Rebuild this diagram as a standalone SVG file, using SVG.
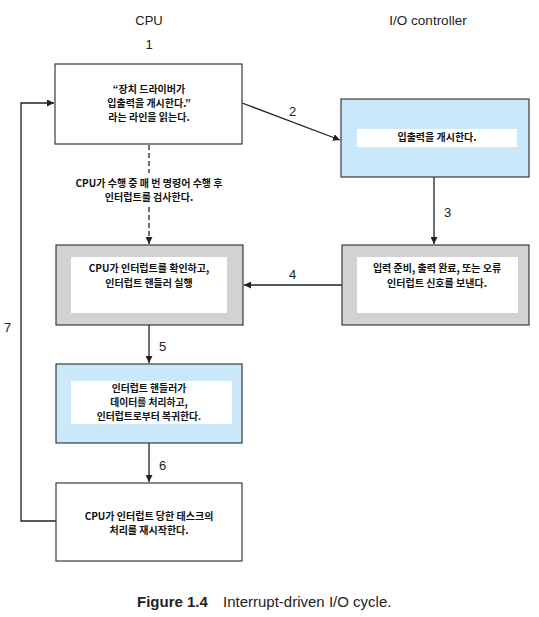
<svg xmlns="http://www.w3.org/2000/svg" width="539" height="617" viewBox="0 0 539 617">
<style>
.lbl{font-family:"Liberation Sans",Arial,sans-serif;font-size:13px;fill:#222}
.kr{font-family:"Noto Sans CJK KR","Noto Sans",sans-serif;font-size:10px;font-weight:bold;fill:#111;text-anchor:middle}
.box{stroke:#3a3a3a;stroke-width:1.2}
.white{fill:#fff}
.blue{fill:#c9e9fa}
.gray{fill:#d2d2d5}
.line{stroke:#222;stroke-width:1.3;fill:none}
.dash{stroke:#222;stroke-width:1.3;fill:none;stroke-dasharray:5,3}
</style>
<defs>
<marker id="ah" viewBox="0 0 10 10" refX="10" refY="5" markerWidth="7" markerHeight="7" markerUnits="userSpaceOnUse" orient="auto">
<path d="M0,0 L10,5 L0,10 z" fill="#222"/>
</marker>
</defs>
<text class="lbl" x="149" y="25" text-anchor="middle">CPU</text>
<text class="lbl" x="428" y="25" text-anchor="middle" style="font-size:13.5px">I/O controller</text>
<text class="lbl" x="149" y="49" text-anchor="middle">1</text>
<g id="connectors">
<line class="line" x1="242" y1="103" x2="340" y2="140" marker-end="url(#ah)"/>
<text class="lbl" x="289" y="116">2</text>
<line class="line" x1="434" y1="177" x2="434" y2="244" marker-end="url(#ah)"/>
<text class="lbl" x="444" y="217">3</text>
<line class="line" x1="342" y1="285" x2="244" y2="285" marker-end="url(#ah)"/>
<text class="lbl" x="289" y="279">4</text>
<line class="line" x1="149" y1="325" x2="149" y2="363" marker-end="url(#ah)"/>
<text class="lbl" x="159" y="351">5</text>
<line class="line" x1="149" y1="443" x2="149" y2="482" marker-end="url(#ah)"/>
<text class="lbl" x="159" y="470">6</text>
<polyline class="line" points="56,521 21,521 21,103 54,103" marker-end="url(#ah)"/>
<text class="lbl" x="4" y="332">7</text>
<line class="dash" x1="149" y1="145" x2="149" y2="173"/>
<line class="dash" x1="149" y1="207" x2="149" y2="244" marker-end="url(#ah)"/>
<text class="kr" x="149" y="187">CPU가 수행 중 매 번 명령어 수행 후</text>
<text class="kr" x="149" y="201">인터럽트를 검사한다.</text>
</g>
<g id="n1">
<rect class="box white" x="55" y="64" width="187" height="80"/>
<text class="kr" x="149" y="93">“장치 드라이버가</text>
<text class="kr" x="149" y="107">입출력을 개시한다.”</text>
<text class="kr" x="149" y="121">라는 라인을 읽는다.</text>
</g>
<g id="n2">
<rect class="box blue" x="341" y="99" width="188" height="78"/>
<rect class="white" x="357" y="129" width="160" height="18"/>
<text class="kr" x="437" y="141">입출력을 개시한다.</text>
</g>
<g id="n3">
<rect class="box gray" x="56" y="245" width="187" height="80"/>
<rect class="white" x="71" y="257" width="156" height="56"/>
<text class="kr" x="149" y="272">CPU가 인터럽트를 확인하고,</text>
<text class="kr" x="149" y="287">인터럽트 핸들러 실행</text>
</g>
<g id="n4">
<rect class="box gray" x="342" y="245" width="187" height="80"/>
<rect class="white" x="357" y="257" width="161" height="56"/>
<text class="kr" x="437" y="272">입력 준비, 출력 완료, 또는 오류</text>
<text class="kr" x="437" y="287">인터럽트 신호를 보낸다.</text>
</g>
<g id="n5">
<rect class="box blue" x="56" y="364" width="186" height="79"/>
<rect class="white" x="71" y="381" width="161" height="43"/>
<text class="kr" x="149" y="391.5" style="font-size:9.8px">인터럽트 핸들러가</text>
<text class="kr" x="149" y="405.5" style="font-size:9.8px">데이터를 처리하고,</text>
<text class="kr" x="149" y="419.5" style="font-size:9.8px">인터럽트로부터 복귀한다.</text>
</g>
<g id="n6">
<rect class="box white" x="56" y="483" width="186" height="78"/>
<text class="kr" x="149" y="520">CPU가 인터럽트 당한 태스크의</text>
<text class="kr" x="149" y="534">처리를 재시작한다.</text>
</g>
<text x="137" y="607" style="font-family:'Liberation Sans',Arial,sans-serif;font-size:15px;font-weight:bold;fill:#222">Figure 1.4</text>
<text x="223" y="607" style="font-family:'Liberation Sans',Arial,sans-serif;font-size:15px;fill:#222">Interrupt-driven I/O cycle.</text>
</svg>
